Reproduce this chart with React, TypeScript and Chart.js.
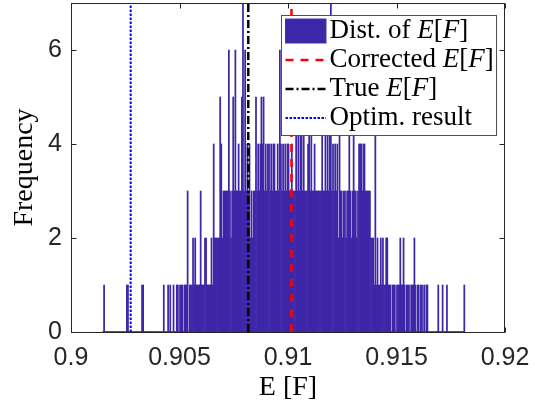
import React, { useEffect, useRef } from 'react';
import { Chart, registerables } from 'chart.js';

Chart.register(...registerables);

// Histogram bins (start of first bin, bin width) and counts per bin
const binStart = 0.90145;
const binWidth = 0.00005;
const counts = [
  0, 1, 0, 0, 0, 0, 0, 0, 0, 0,
  0, 0, 0, 0, 0, 0, 0, 0, 0, 0,
  0, 0, 1, 1, 0, 0, 0, 0, 0, 0,
  0, 0, 0, 0, 0, 0, 1, 1, 0, 0,
  0, 0, 0, 0, 0, 0, 0, 0, 0, 0,
  0, 0, 0, 0, 0, 0, 1, 0, 0, 0,
  1, 0, 1, 0, 0, 1, 0, 0, 1, 1,
  0, 1, 1, 1, 0, 1, 1, 1, 3, 0,
  1, 1, 1, 2, 1, 2, 1, 1, 1, 1,
  3, 1, 1, 1, 2, 2, 1, 1, 1, 1,
  2, 1, 4, 2, 2, 2, 2, 2, 5, 4,
  2, 3, 3, 3, 3, 3, 6, 3, 2, 3,
  5, 3, 6, 3, 3, 4, 3, 3, 5, 7,
  3, 6, 3, 4, 3, 4, 2, 3, 2, 3,
  3, 5, 3, 4, 3, 4, 5, 4, 5, 3,
  4, 3, 4, 4, 3, 4, 3, 4, 4, 3,
  3, 4, 3, 6, 4, 3, 4, 3, 4, 3,
  4, 4, 3, 3, 4, 3, 3, 3, 5, 3,
  5, 3, 5, 5, 3, 5, 3, 3, 3, 4,
  5, 3, 5, 3, 3, 4, 3, 3, 3, 3,
  3, 3, 5, 3, 3, 5, 3, 5, 3, 5,
  7, 3, 4, 3, 4, 3, 4, 2, 5, 3,
  3, 2, 3, 3, 2, 3, 3, 5, 3, 2,
  3, 5, 3, 3, 2, 3, 4, 4, 4, 3,
  4, 4, 3, 3, 3, 3, 3, 2, 2, 2,
  1, 5, 1, 2, 1, 1, 2, 1, 2, 1,
  1, 2, 2, 1, 1, 1, 0, 1, 1, 1,
  0, 1, 1, 1, 2, 1, 1, 2, 1, 0,
  1, 1, 1, 0, 1, 1, 1, 2, 1, 0,
  1, 1, 0, 1, 1, 0, 1, 0, 1, 1,
  0, 0, 0, 0, 0, 0, 0, 0, 0, 1,
  0, 0, 0, 1, 0, 0, 0, 1, 0, 0,
  0, 0, 0, 0, 0, 0, 0, 0, 0, 0,
  0, 0, 0, 1,
];

// Reference lines
const correctedEF = 0.91016;
const trueEF = 0.90817;
const optimResult = 0.90275;

// Axes
const xMin = 0.9;
const xMax = 0.92;
const yMin = 0;
const yMax = 7;
const xTicks = [0.9, 0.905, 0.91, 0.915, 0.92];
const xTickLabels = ['0.9', '0.905', '0.91', '0.915', '0.92'];
const yTicks = [0, 2, 4, 6];
const yTickLabels = ['0', '2', '4', '6'];
const xTitle = 'E [F]';
const yTitle = 'Frequency';

// Legend labels: [text, italic]
const legendLabels: [string, boolean][][] = [
  [['Dist. of ', false], ['E', true], ['[', false], ['F', true], [']', false]],
  [['Corrected ', false], ['E', true], ['[', false], ['F', true], [']', false]],
  [['True ', false], ['E', true], ['[', false], ['F', true], [']', false]],
  [['Optim. result', false]],
];

const PURPLE = 'rgb(62,38,168)';
const RED = 'rgb(255,0,0)';
const BLACK = 'rgb(0,0,0)';
const BLUE = 'rgb(0,0,255)';
const AXIS = 'rgb(38,38,38)';
const SANS = '"Liberation Sans", Arial, Helvetica, sans-serif';
const SERIF = '"Liberation Serif", "Times New Roman", serif';

const redDash = [8, 7];
const blackDash = [8, 3, 2, 3];
const blueDash = [2.5, 1.5];

const framePlugin = {
  id: 'frame',
  beforeDatasetsDraw(chart: any) {
    const { ctx, chartArea: a, scales } = chart;
    ctx.save();
    ctx.strokeStyle = AXIS;
    ctx.lineWidth = 1;
    const l = Math.round(a.left) + 0.5;
    const r = Math.round(a.right) - 0.5;
    const t = Math.round(a.top) + 0.5;
    const b = Math.round(a.bottom) + 0.5;
    ctx.strokeRect(l, t, r - l, b - t);
    const tl = 5;
    ctx.beginPath();
    xTicks.forEach((v) => {
      const px = Math.round(scales.x.getPixelForValue(v)) + 0.5;
      ctx.moveTo(px, b);
      ctx.lineTo(px, b - tl);
      ctx.moveTo(px, t);
      ctx.lineTo(px, t + tl);
    });
    yTicks.forEach((v) => {
      const py = Math.round(scales.y.getPixelForValue(v)) + 0.5;
      ctx.moveTo(l, py);
      ctx.lineTo(l + tl, py);
      ctx.moveTo(r, py);
      ctx.lineTo(r - tl, py);
    });
    ctx.stroke();
    ctx.restore();
  },
  afterDraw(chart: any) {
    const { ctx, chartArea: a } = chart;
    const boxRight = a.right - 9.5;
    const boxLeft = boxRight - 214.5;
    const boxTop = a.top + 12;
    const boxH = 120;
    ctx.save();
    ctx.fillStyle = '#ffffff';
    ctx.fillRect(boxLeft, boxTop, boxRight - boxLeft, boxH);
    ctx.strokeStyle = 'rgb(80,80,80)';
    ctx.lineWidth = 1;
    ctx.strokeRect(Math.round(boxLeft) + 0.5, Math.round(boxTop) + 0.5, Math.round(boxRight - boxLeft), boxH);

    const symL = boxLeft + 4.5;
    const symR = boxLeft + 45;
    const textX = boxLeft + 48.5;
    const rowY = [boxTop + 16, boxTop + 45, boxTop + 74, boxTop + 103];

    // patch
    ctx.fillStyle = PURPLE;
    ctx.fillRect(symL, rowY[0] - 12, symR - symL, 24);
    ctx.strokeStyle = 'rgb(70,50,180)';
    ctx.strokeRect(symL, rowY[0] - 12, symR - symL, 24);

    const drawLine = (y: number, color: string, dash: number[], w: number) => {
      ctx.beginPath();
      ctx.setLineDash(dash);
      ctx.strokeStyle = color;
      ctx.lineWidth = w;
      ctx.moveTo(symL, y);
      ctx.lineTo(symR, y);
      ctx.stroke();
      ctx.setLineDash([]);
    };
    drawLine(rowY[1], RED, redDash, 2.5);
    drawLine(rowY[2], BLACK, blackDash, 2.5);
    drawLine(rowY[3], BLUE, blueDash, 2);

    ctx.fillStyle = '#000000';
    ctx.textBaseline = 'middle';
    ctx.textAlign = 'left';
    legendLabels.forEach((segs, i) => {
      let x = textX;
      segs.forEach(([txt, it]) => {
        ctx.font = (it ? 'italic ' : '') + '27px ' + SERIF;
        ctx.fillText(txt, x, rowY[i]);
        x += ctx.measureText(txt).width;
      });
    });
    ctx.restore();
  },
};

export default function App() {
  const ref = useRef<HTMLCanvasElement>(null);

  useEffect(() => {
    const canvas = ref.current;
    if (!canvas) return;
    const barData = counts.map((c, i) => ({ x: binStart + (i + 0.5) * binWidth, y: c }));
    const binEnd = binStart + counts.length * binWidth;
    const vline = (x: number) => [
      { x, y: yMin },
      { x, y: yMax },
    ];
    const chart = new Chart(canvas, {
      type: 'bar',
      data: {
        datasets: [
          {
            type: 'line',
            label: 'Corrected',
            data: vline(correctedEF),
            borderColor: RED,
            borderWidth: 2.5,
            borderDash: redDash,
            pointRadius: 0,
            order: 0,
          } as any,
          {
            type: 'line',
            label: 'True',
            data: vline(trueEF),
            borderColor: BLACK,
            borderWidth: 2.5,
            borderDash: blackDash,
            pointRadius: 0,
            order: 0,
          } as any,
          {
            type: 'line',
            label: 'Optim',
            data: vline(optimResult),
            borderColor: BLUE,
            borderWidth: 2,
            borderDash: blueDash,
            pointRadius: 0,
            order: 0,
          } as any,
          {
            type: 'line',
            label: 'base',
            data: [
              { x: binStart, y: 0 },
              { x: binEnd, y: 0 },
            ],
            borderColor: PURPLE,
            borderWidth: 1.5,
            pointRadius: 0,
            order: 2,
          } as any,
          {
            type: 'bar',
            label: 'Dist',
            data: barData,
            backgroundColor: PURPLE,
            borderWidth: 0,
            barPercentage: 1,
            categoryPercentage: 1,
            order: 3,
          } as any,
        ],
      },
      options: {
        animation: false,
        responsive: false,
        devicePixelRatio: 1,
        layout: { padding: { top: 3, right: 30, bottom: 0, left: 0 } },
        plugins: { legend: { display: false }, tooltip: { enabled: false } },
        scales: {
          x: {
            type: 'linear',
            min: xMin,
            max: xMax,
            offset: false,
            grid: { display: false, drawTicks: false },
            border: { display: false },
            afterBuildTicks: (s: any) => {
              s.ticks = xTicks.map((v) => ({ value: v }));
            },
            afterFit: (s: any) => {
              s.height = 70;
              s.paddingLeft = 0;
              s.paddingRight = 0;
            },
            ticks: {
              autoSkip: false,
              maxRotation: 0,
              padding: 11,
              color: AXIS,
              font: { family: SANS, size: 25 },
              callback: (_v: any, i: number) => xTickLabels[i],
            },
            title: {
              display: true,
              text: xTitle,
              color: '#000000',
              font: { family: SERIF, size: 28, lineHeight: 1 },
              padding: { top: 0, bottom: 0 },
            },
          },
          y: {
            type: 'linear',
            min: yMin,
            max: yMax,
            grid: { display: false, drawTicks: false },
            border: { display: false },
            afterBuildTicks: (s: any) => {
              s.ticks = yTicks.map((v) => ({ value: v }));
            },
            afterFit: (s: any) => {
              s.width = 71;
              s.paddingTop = 0;
              s.paddingBottom = 0;
            },
            ticks: {
              padding: 9,
              color: AXIS,
              font: { family: SANS, size: 25 },
              callback: (_v: any, i: number) => yTickLabels[i],
            },
            title: {
              display: true,
              text: yTitle,
              color: '#000000',
              font: { family: SERIF, size: 28, lineHeight: 1 },
              padding: { top: 11, bottom: 0 },
            },
          },
        },
      } as any,
      plugins: [framePlugin],
    });
    return () => chart.destroy();
  }, []);

  return (
    <div style={{ position: 'absolute', left: 0, top: 0, width: 535, height: 402, background: '#fff' }}>
      <canvas ref={ref} width={535} height={402} style={{ width: 535, height: 402, display: 'block' }} />
    </div>
  );
}
